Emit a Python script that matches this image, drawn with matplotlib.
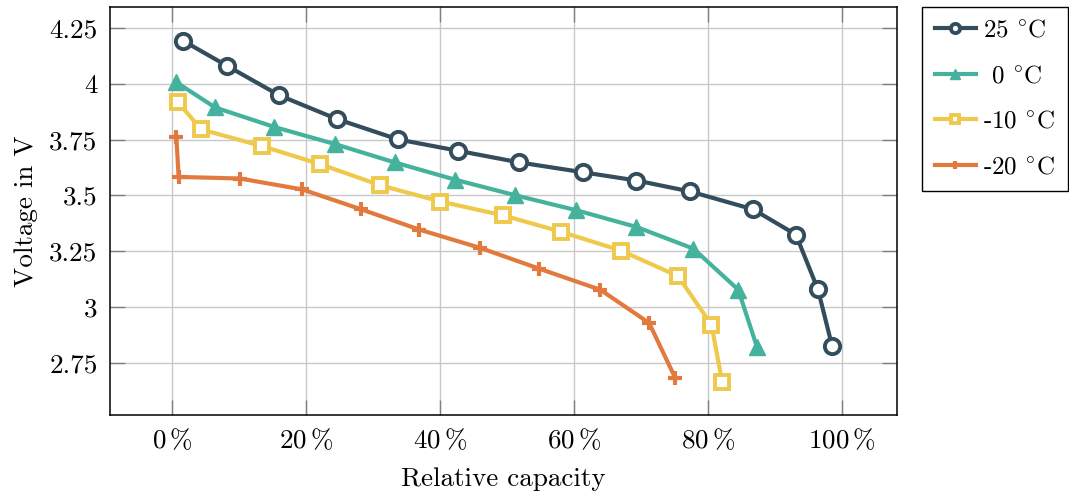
import numpy as np
import matplotlib.pyplot as plt
from matplotlib.ticker import FuncFormatter

plt.rcParams['font.family'] = ['cmr10', 'DejaVu Serif']
plt.rcParams['mathtext.fontset'] = 'cm'
plt.rcParams['axes.formatter.use_mathtext'] = True
plt.rcParams['axes.unicode_minus'] = False

# relative capacity in %, voltage in V
cap_25 = [1.6, 8.2, 16.0, 24.6, 33.7, 42.7, 51.8, 61.3, 69.3, 77.3, 86.7, 93.1, 96.4, 98.5]
volt_25 = [4.193, 4.080, 3.948, 3.842, 3.751, 3.700, 3.648, 3.604, 3.567, 3.518, 3.438, 3.325, 3.079, 2.827]

cap_0 = [0.6, 6.4, 15.2, 24.3, 33.2, 42.2, 51.2, 60.3, 69.3, 77.8, 84.5, 87.3]
volt_0 = [4.007, 3.894, 3.807, 3.730, 3.648, 3.571, 3.501, 3.434, 3.359, 3.262, 3.078, 2.821]

cap_m10 = [0.85, 4.3, 13.4, 22.1, 31.0, 40.0, 49.4, 58.1, 67.0, 75.5, 80.5, 82.1]
volt_m10 = [3.918, 3.796, 3.721, 3.640, 3.546, 3.473, 3.411, 3.337, 3.253, 3.139, 2.921, 2.664]

cap_m20 = [0.6, 0.95, 10.1, 19.4, 28.2, 36.9, 46.0, 54.8, 63.9, 71.2, 75.1]
volt_m20 = [3.763, 3.583, 3.576, 3.527, 3.438, 3.347, 3.265, 3.172, 3.078, 2.929, 2.682]

labels = ['25 $^{\\circ}$C', ' 0 $^{\\circ}$C', '-10 $^{\\circ}$C', '-20 $^{\\circ}$C']
colors = ['#334D5C', '#45B29D', '#EFC94C', '#E27A3F']

fig = plt.figure(figsize=(10.69, 4.92), dpi=100)
ax = fig.add_axes([0.1029, 0.1565, 0.7362, 0.8293])

ax.plot(cap_25, volt_25, '-o', color=colors[0], lw=3.0, ms=11,
        mfc='white', mew=2.8, label=labels[0], zorder=5)
ax.plot(cap_0, volt_0, '-^', color=colors[1], lw=3.0, ms=11,
        label=labels[1], zorder=4)
ax.plot(cap_m10, volt_m10, '-s', color=colors[2], lw=3.0, ms=10.5,
        mfc='white', mew=2.8, label=labels[2], zorder=3)
ax.plot(cap_m20, volt_m20, '-+', color=colors[3], lw=3.0, ms=10,
        mew=3.0, label=labels[3], zorder=2)

ax.set_xlim(-9.3, 108.2)
ax.set_ylim(2.517, 4.344)
ax.set_xticks([0, 20, 40, 60, 80, 100])
ax.set_yticks([2.75, 3, 3.25, 3.5, 3.75, 4, 4.25])
ax.xaxis.set_major_formatter(FuncFormatter(lambda v, p: r'$%d\,\%%$' % v))
ax.yaxis.set_major_formatter(FuncFormatter(lambda v, p: ('%g' % v)))

ax.grid(True, color='#c8c8c8', lw=1.0)
ax.set_axisbelow(True)
ax.tick_params(direction='in', length=11, width=1.0, color='#808080',
               top=True, right=True, labelsize=19.5, pad=9)
for s in ax.spines.values():
    s.set_linewidth(1.1)
    s.set_color('black')

ax.set_xlabel('Relative capacity', fontsize=19.5, labelpad=10)
ax.set_ylabel('Voltage in V', fontsize=19.5, labelpad=8)

leg = ax.legend(loc='upper left', bbox_to_anchor=(1.0318, 1.0), borderaxespad=0,
                fontsize=18, fancybox=False, framealpha=1, edgecolor='black',
                labelspacing=0.92, handlelength=1.65, handletextpad=0.3,
                borderpad=0.5, markerscale=0.6)
leg.get_frame().set_linewidth(1.0)

fig.savefig('out.png', dpi=100)
